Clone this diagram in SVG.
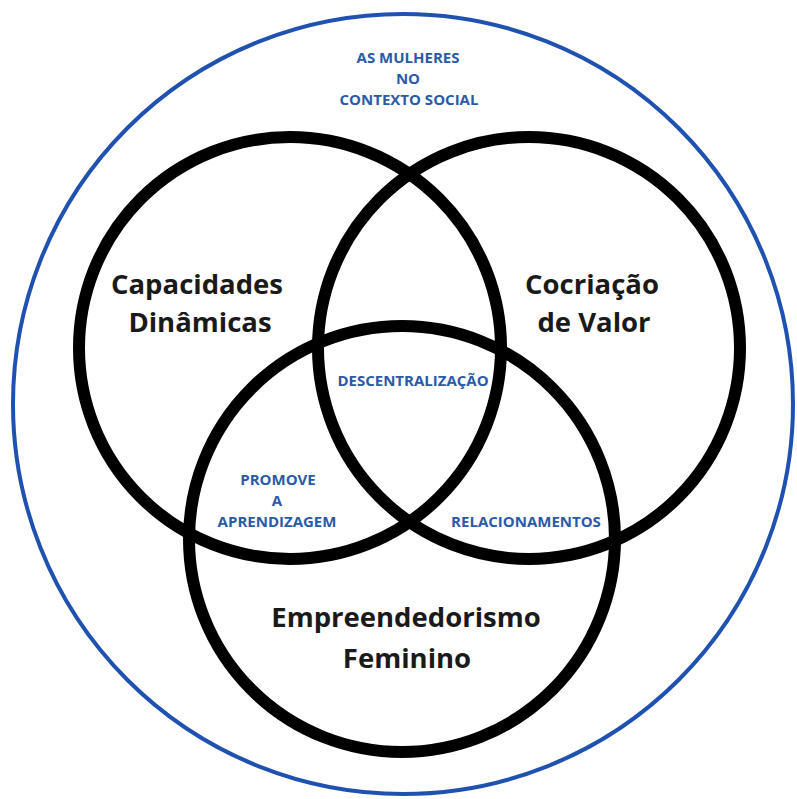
<svg xmlns="http://www.w3.org/2000/svg" width="797" height="799" viewBox="0 0 797 799">
<style>
.ring{fill:none;stroke:#000;stroke-width:12}
.outer{fill:none;stroke:#1f52b0;stroke-width:4}
.big{font-family:"Open Sans","Liberation Sans",sans-serif;font-weight:700;font-size:27.5px;fill:#1a1a1a;text-anchor:middle}
.lbl{font-family:"Open Sans","Liberation Sans",sans-serif;font-weight:700;font-size:15px;fill:#2a5aa8;text-anchor:middle}
</style>
<rect width="797" height="799" fill="#fff"/>
<g id="contexto">
<circle class="outer" cx="403" cy="404" r="390"/>
<text class="lbl"><tspan x="408" y="63">AS MULHERES</tspan><tspan x="408" y="84">NO</tspan><tspan x="409" y="105">CONTEXTO SOCIAL</tspan></text>
</g>
<g id="capacidades">
<circle class="ring" cx="290" cy="348" r="211"/>
<text class="big"><tspan x="197" y="294">Capacidades</tspan><tspan x="200" y="332">Dinâmicas</tspan></text>
</g>
<g id="cocriacao">
<circle class="ring" cx="529" cy="348" r="211"/>
<text class="big"><tspan x="592" y="294">Cocriação</tspan><tspan x="594" y="332">de Valor</tspan></text>
</g>
<g id="empreendedorismo">
<circle class="ring" cx="402" cy="539" r="213"/>
<text class="big"><tspan x="406" y="627">Empreendedorismo</tspan><tspan x="407" y="668">Feminino</tspan></text>
</g>
<g id="descentralizacao"><text class="lbl" x="413" y="386">DESCENTRALIZAÇÃO</text></g>
<g id="aprendizagem"><text class="lbl"><tspan x="278" y="485">PROMOVE</tspan><tspan x="277" y="506">A</tspan><tspan x="277" y="527">APRENDIZAGEM</tspan></text></g>
<g id="relacionamentos"><text class="lbl" x="526" y="527">RELACIONAMENTOS</text></g>
</svg>
